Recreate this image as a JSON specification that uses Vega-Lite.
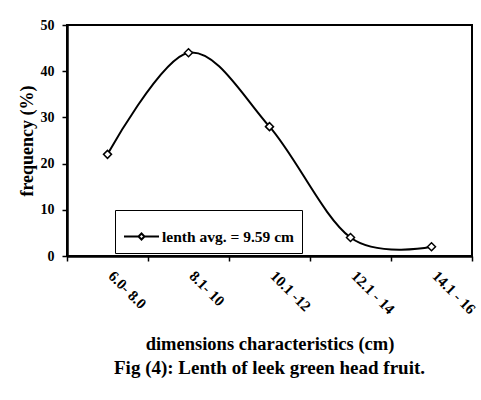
{
  "$schema": "https://vega.github.io/schema/vega-lite/v6.json",
  "width": 405,
  "height": 231,
  "autosize": {"type": "none"},
  "padding": {"left": 67, "top": 25, "right": 9, "bottom": 144},
  "background": "white",
  "data": {
    "values": [
      {"range": "6.0- 8.0", "frequency": 22, "series": "lenth avg. = 9.59 cm"},
      {"range": "8.1- 10", "frequency": 44, "series": "lenth avg. = 9.59 cm"},
      {"range": "10.1 -12", "frequency": 28, "series": "lenth avg. = 9.59 cm"},
      {"range": "12.1 - 14", "frequency": 4, "series": "lenth avg. = 9.59 cm"},
      {"range": "14.1 - 16", "frequency": 2, "series": "lenth avg. = 9.59 cm"}
    ]
  },
  "title": {
    "text": "Fig (4): Lenth of leek green head fruit.",
    "orient": "bottom",
    "anchor": "middle",
    "font": "Liberation Serif",
    "fontSize": 19,
    "fontWeight": "bold",
    "color": "black",
    "offset": 6
  },
  "encoding": {
    "x": {
      "field": "range",
      "type": "nominal",
      "sort": null,
      "scale": {"paddingInner": 0, "paddingOuter": 0},
      "axis": {
        "title": "dimensions characteristics (cm)",
        "titleFontSize": 18.5,
        "tickBand": "extent",
        "labelAngle": 45,
        "labelAlign": "left",
        "labelBaseline": "top",
        "labelFontSize": 15,
        "labelPadding": 7,
        "labelOffset": 8,
        "titlePadding": 18
      }
    },
    "y": {
      "field": "frequency",
      "type": "quantitative",
      "scale": {"domain": [0, 50]},
      "axis": {
        "title": "frequency (%)",
        "titleFontSize": 18,
        "values": [0, 10, 20, 30, 40, 50],
        "labelPadding": 8,
        "titlePadding": 4
      }
    }
  },
  "layer": [
    {
      "mark": {"type": "line", "interpolate": "cardinal", "strokeWidth": 2},
      "encoding": {
        "color": {
          "field": "series",
          "type": "nominal",
          "scale": {"range": ["black"]},
          "legend": {
            "title": null,
            "orient": "none",
            "legendX": 48,
            "legendY": 185,
            "strokeColor": "black",
            "fillColor": "white",
            "padding": 8,
            "symbolType": "M-1,0L-0.17,0M0.17,0L1,0M-0.17,0L0,-0.17L0.17,0L0,0.17Z",
            "symbolSize": 1225,
            "symbolStrokeWidth": 2,
            "symbolStrokeColor": "black",
            "symbolFillColor": "white",
            "labelOffset": 2,
            "labelFont": "Liberation Serif",
            "labelFontSize": 15.5,
            "labelFontWeight": "bold",
            "labelColor": "black"
          }
        }
      }
    },
    {
      "mark": {
        "type": "point",
        "shape": "diamond",
        "size": 64,
        "filled": true,
        "fill": "white",
        "stroke": "black",
        "strokeWidth": 1.5,
        "opacity": 1
      }
    }
  ],
  "config": {
    "view": {"stroke": "black", "strokeWidth": 2},
    "axis": {
      "domainColor": "black",
      "domainWidth": 2.5,
      "tickColor": "black",
      "tickSize": 5,
      "tickWidth": 1.5,
      "grid": false,
      "labelFont": "Liberation Serif",
      "labelFontSize": 14,
      "labelFontWeight": "bold",
      "labelColor": "black",
      "titleFont": "Liberation Serif",
      "titleFontSize": 16,
      "titleFontWeight": "bold",
      "titleColor": "black"
    }
  }
}
